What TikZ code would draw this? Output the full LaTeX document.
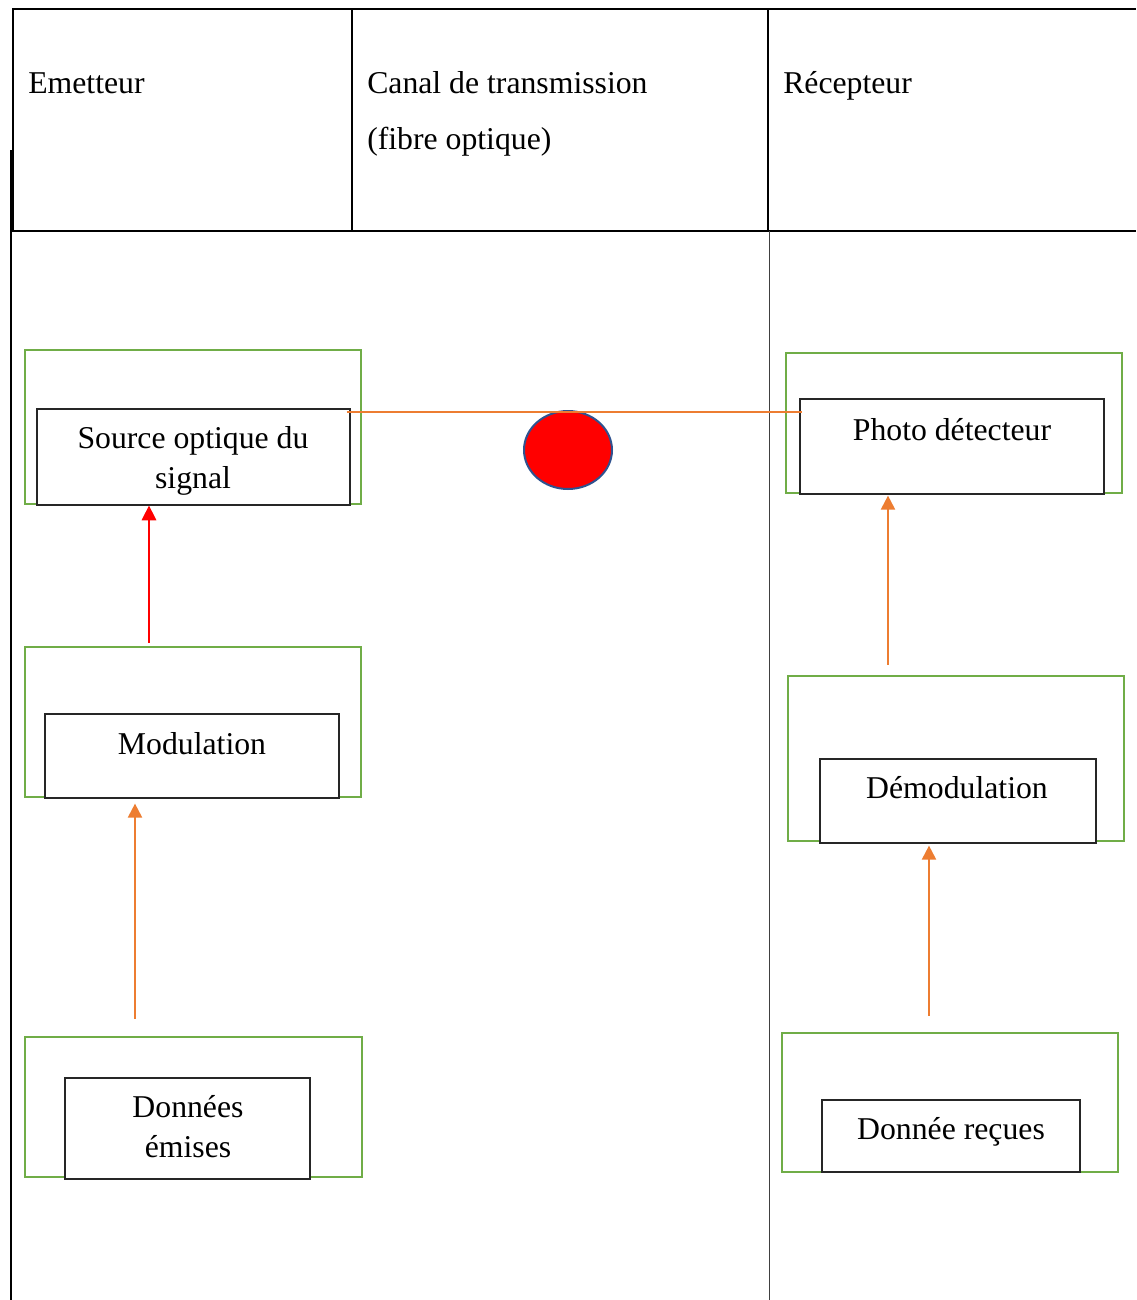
\documentclass[tikz,border=0pt]{standalone}
\usepackage{fontspec}
\setmainfont{Liberation Serif}
\usetikzlibrary{arrows.meta,shapes.geometric,calc}
\definecolor{boxgreen}{HTML}{70AD47}
\definecolor{arrorange}{HTML}{ED7D31}
\definecolor{ellborder}{HTML}{2F528F}
\tikzset{
  tline/.style={line width=1.5pt, black},
  bodyline/.style={line width=1pt},
  greenbox/.style={draw=boxgreen, line width=2pt, rectangle, inner sep=0pt, minimum width=252pt},
  blackbox/.style={draw=black!85, fill=white, line width=0.9pt, rectangle, inner sep=0pt},
  lbl/.style={font=\fontsize{23.8}{28}\selectfont, inner sep=0pt, anchor=base},
  hdr/.style={font=\fontsize{23.8}{28}\selectfont, inner sep=0pt, anchor=base west},
  orangearr/.style={draw=arrorange, line width=1.6pt, -{Triangle[length=10.5pt,width=10.5pt]}},
  redarr/.style={draw=red, line width=0.8pt, -{Triangle[length=11pt,width=11pt]}},
  fibreline/.style={draw=arrorange, line width=1.2pt},
}
\begin{document}
\begin{tikzpicture}[x=0.75pt,y=-0.75pt]
\useasboundingbox (0,0) rectangle (1136,1300);
% table
\draw[tline] (12,9) -- (1136,9);
\draw[tline] (12,231) -- (1136,231);
\draw[tline] (12.5,9) -- (12.5,231);
\draw[tline] (352,9) -- (352,231);
\draw[tline] (768,9) -- (768,231);
\draw[bodyline] (11,150) -- (11,1300);
\draw[bodyline, black!75] (769.5,231) -- (769.5,1300);
% header texts
\node[hdr] (hE) at (28,93) {Emetteur};
\node[hdr] (hC1) at (367,93) {Canal de transmission};
\node[hdr] (hC2) at (367,149) {(fibre optique)};
\node[hdr] (hR) at (783,93) {Récepteur};
% green boxes
\node[greenbox, minimum height=115.5pt] (srcg) at (193,427) {};
\node[greenbox, minimum height=112.5pt] (modg) at (193,722) {};
\node[greenbox, minimum width=252.75pt, minimum height=105pt] (dong) at (193.5,1107) {};
\node[greenbox, minimum height=105pt] (phog) at (954,423) {};
\node[greenbox, minimum height=123.75pt] (demg) at (956,758.5) {};
\node[greenbox, minimum height=104.25pt] (recg) at (950,1102.5) {};
% black boxes
\node[blackbox, minimum width=234.75pt, minimum height=72pt] (srcb) at (193.5,457) {};
\node[blackbox, minimum width=220.5pt, minimum height=63pt] (modb) at (192,756) {};
\node[blackbox, minimum width=183.75pt, minimum height=75.75pt] (donb) at (187.5,1128.5) {};
\node[blackbox, minimum width=228pt, minimum height=71.25pt] (phob) at (952,446.5) {};
\node[blackbox, minimum width=207pt, minimum height=63pt] (demb) at (958,801) {};
\node[blackbox, minimum width=193.5pt, minimum height=54pt] (recb) at (951,1136) {};
% labels
\node[lbl] (t1a) at (193,448) {Source optique du};
\node[lbl] (t1b) at (193,488) {signal};
\node[lbl] (t2) at (192,754) {Modulation};
\node[lbl] (t3a) at (188,1117) {Données};
\node[lbl] (t3b) at (188,1157) {émises};
\node[lbl] (t4) at (952,440) {Photo détecteur};
\node[lbl] (t5) at (957,798) {Démodulation};
\node[lbl] (t6) at (951,1139) {Donnée reçues};
% ellipse
\node[ellipse, draw=ellborder, fill=red, line width=1.5pt, minimum width=66pt, minimum height=58.5pt, inner sep=0pt] (ell) at (568,450) {};
% fibre line
\coordinate (fa) at ($(srcb.north east)+(-3pt,-2.625pt)$);
\coordinate (fb) at ($(phob.north west)+(2.25pt,-10.125pt)$);
\path[fibreline] (fa) -- (fb);
% arrows
\coordinate (c1) at (149,0);
\coordinate (c2) at (135,0);
\coordinate (c3) at (888,0);
\coordinate (c4) at (929,0);
\draw[redarr, shorten <=2.25pt] (c1 |- modg.north) -- (c1 |- srcb.south);
\draw[orangearr, shorten <=12.75pt, shorten >=3.75pt] (c2 |- dong.north) -- (c2 |- modb.south);
\draw[orangearr, shorten <=7.5pt, shorten >=0.75pt] (c3 |- demg.north) -- (c3 |- phob.south);
\draw[orangearr, shorten <=12pt, shorten >=1.5pt] (c4 |- recg.north) -- (c4 |- demb.south);
\end{tikzpicture}
\end{document}
